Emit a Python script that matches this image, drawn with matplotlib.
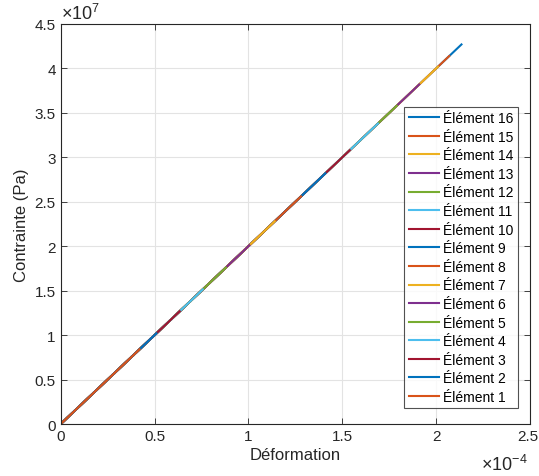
import matplotlib
matplotlib.use("Agg")
import matplotlib.pyplot as plt
from matplotlib.ticker import FuncFormatter, MultipleLocator

plt.rcParams['font.family'] = ['Liberation Sans', 'DejaVu Sans']
plt.rcParams['mathtext.fontset'] = 'custom'
plt.rcParams['mathtext.rm'] = 'Liberation Sans'
plt.rcParams['mathtext.it'] = 'Liberation Sans'

# Element numbers and end strain of each element's (linear) stress-strain curve
elements = list(range(1, 17))
end_strain = [0.42e-4, 0.51e-4, 0.634e-4, 0.757e-4, 0.88e-4, 1.005e-4, 1.14e-4, 1.28e-4,
              1.41e-4, 1.54e-4, 1.69e-4, 1.79e-4, 1.91e-4, 2.01e-4, 2.07e-4, 2.135e-4]
youngs_modulus = 2.0e11  # Pa
end_stress = [youngs_modulus * e for e in end_strain]

x_max = 2.5e-4
y_max = 4.5e7

matlab_colors = ['#0072BD', '#D95319', '#EDB120', '#7E2F8E', '#77AC30', '#4DBEEE', '#A2142F']

fig = plt.figure(figsize=(5.39, 4.77), dpi=100)
ax = fig.add_axes([0.1126, 0.109, 0.8707, 0.8386])

# plotted from element 16 down to element 1
for i, el in enumerate(reversed(elements)):
    idx = el - 1
    ax.plot([0, end_strain[idx]], [0, end_stress[idx]], color=matlab_colors[i % 7],
            lw=1.5, label=f'Élément {el}')

ax.set_xlim(0, x_max)
ax.set_ylim(0, y_max)
ax.xaxis.set_major_locator(MultipleLocator(0.5e-4))
ax.yaxis.set_major_locator(MultipleLocator(0.5e7))


def xfmt(v, p):
    if abs(v - x_max) < 1e-9:
        return ''
    return f'{v/1e-4:g}'


ax.xaxis.set_major_formatter(FuncFormatter(xfmt))
ax.yaxis.set_major_formatter(FuncFormatter(lambda v, p: f'{v/1e7:g}'))

ax.grid(True, color='#e3e3e3', lw=0.8)
ax.set_axisbelow(True)
for s in ax.spines.values():
    s.set_color('#262626')
    s.set_linewidth(0.8)
ax.tick_params(direction='in', length=4, width=0.6, colors='#262626', labelsize=11,
               top=True, right=True, labelcolor='#262626')

# last x tick label, kept inside the figure edge
ax.annotate(f'{x_max/1e-4:g}', xy=(1, 0), xycoords='axes fraction', xytext=(6.3, -3.5),
            textcoords='offset points', ha='right', va='top', fontsize=11, color='#262626')

ax.set_xlabel('Déformation', fontsize=12, color='#262626', labelpad=3)
ax.set_ylabel('Contrainte (Pa)', fontsize=12, color='#262626', labelpad=4)

ax.text(0.0, 1.003, r'$\times10^{7}$', transform=ax.transAxes, fontsize=13,
        color='#262626', ha='left', va='bottom')
ax.text(0.995, -0.075, r'$\times10^{-4}$', transform=ax.transAxes, fontsize=13,
        color='#262626', ha='right', va='top')

leg = ax.legend(loc='upper right', bbox_to_anchor=(518 / 539, 1 - 108 / 477),
                bbox_transform=fig.transFigure, fontsize=10, frameon=True,
                fancybox=False, edgecolor='#262626', borderpad=0.3,
                labelspacing=0.33, handlelength=2.2, handletextpad=0.3,
                borderaxespad=0)
leg.get_frame().set_linewidth(0.8)
for t in leg.get_texts():
    t.set_color('#000000')

fig.savefig('out.png', dpi=100)
